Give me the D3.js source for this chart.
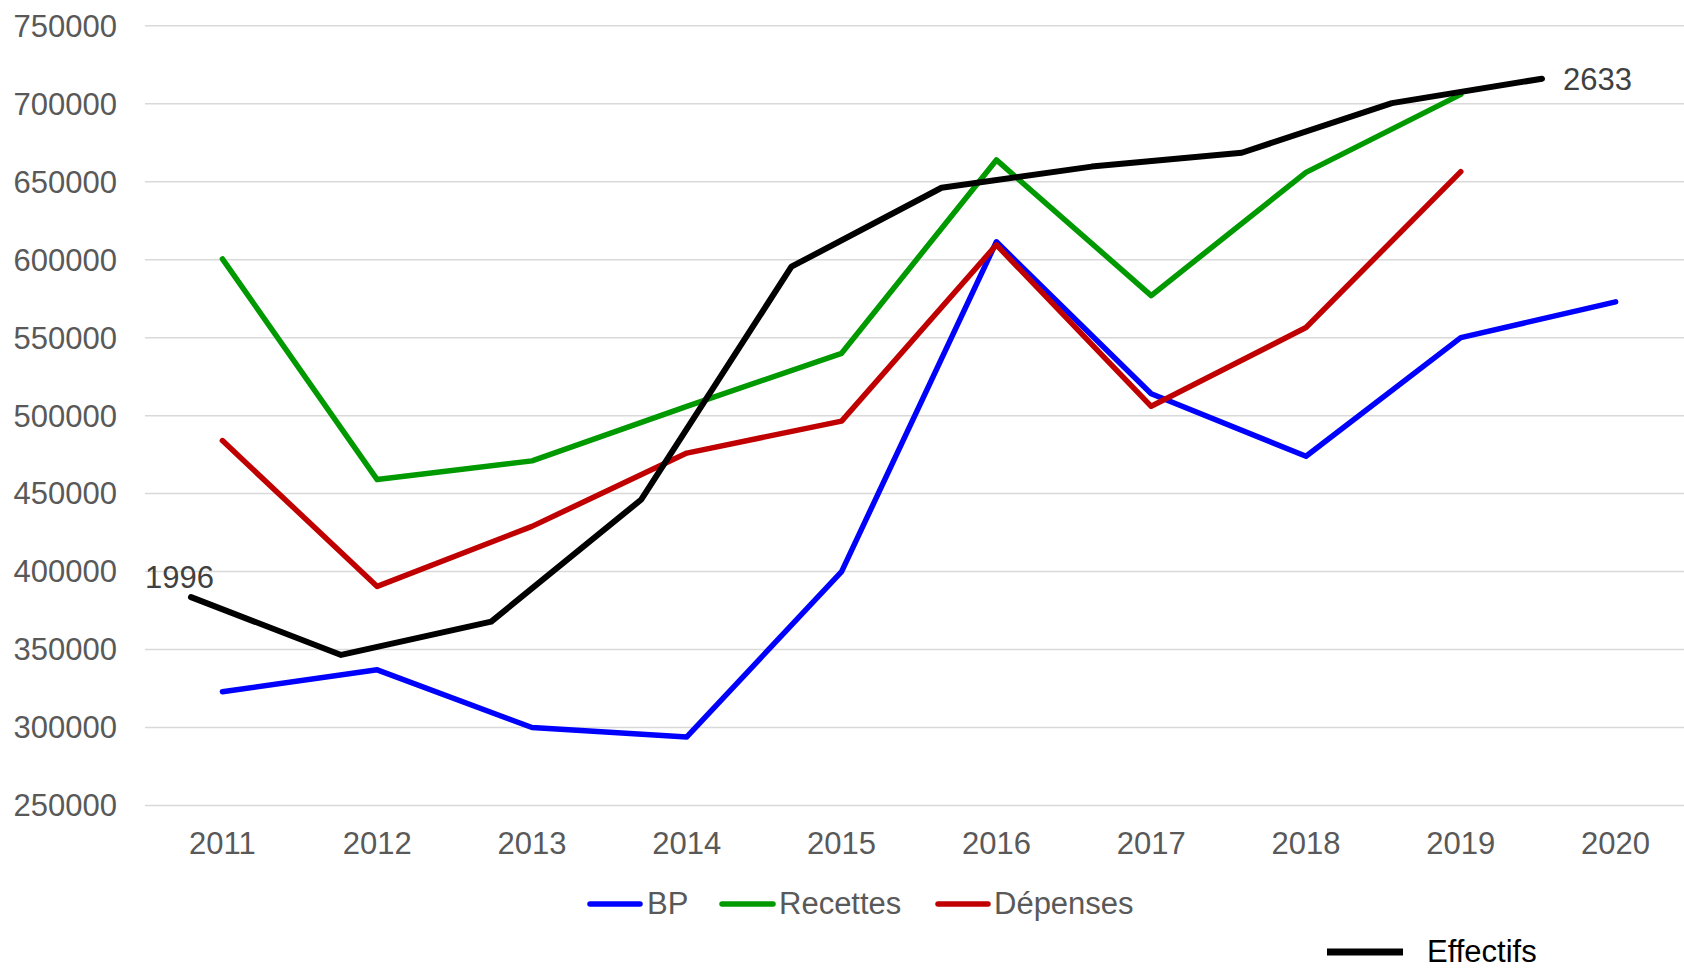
<!DOCTYPE html>
<html lang="fr">
  <head>
    <meta charset="UTF-8" />
    <title>BP, Recettes, Dépenses et Effectifs</title>
    <style>
      body {
        margin: 0;
        padding: 0;
        background-color: #ffffff;
        font-family: "Liberation Sans", Arial, sans-serif;
      }
      .grid line {
        stroke: #d9d9d9;
        stroke-width: 1.5px;
      }
      .axis text {
        fill: #595959;
        font-size: 31px;
      }
      .legend text {
        fill: #595959;
        font-size: 31px;
      }
      .label {
        fill: #404040;
        font-size: 31px;
      }
    </style>
  </head>
  <body>
    <svg id="chart"></svg>

    <script src="https://d3js.org/d3.v7.min.js"></script>
    <script>
      const years = ["2011", "2012", "2013", "2014", "2015", "2016", "2017", "2018", "2019", "2020"];
      const yTicks = [250000, 300000, 350000, 400000, 450000, 500000, 550000, 600000, 650000, 700000, 750000];

      const bp = [323000, 337000, 300000, 294000, 400000, 611500, 514000, 474000, 550000, 573000];
      const recettes = [600500, 459000, 471000, 506000, 540000, 664000, 577000, 656000, 706000, null];
      const depenses = [484000, 390500, 429000, 476000, 496500, 609500, 506000, 556500, 656500, null];
      const effectifs = [1996, 1925, 1966, 2116, 2402, 2499, 2525, 2542, 2603, 2633];

      const width = 1684;
      const height = 969;

      const svg = d3.select("#chart").attr("width", width).attr("height", height);

      // main axes (plot area runs a bit past the right edge)
      const x = d3.scaleBand().domain(years).range([145, 1693]);
      const y = d3.scaleLinear().domain([250000, 750000]).range([805.5, 25.8]);

      // hidden secondary axes for Effectifs
      const x2 = d3.scalePoint().domain(years).range([191, 1542]);
      const y2 = d3.scaleLinear().domain([1740, 2698]).range([805.5, 25.8]);

      // gridlines
      svg
        .append("g")
        .attr("class", "grid")
        .selectAll("line")
        .data(yTicks)
        .enter()
        .append("line")
        .attr("x1", 145)
        .attr("x2", width)
        .attr("y1", (d) => y(d))
        .attr("y2", (d) => y(d));

      // y axis labels
      svg
        .append("g")
        .attr("class", "axis")
        .selectAll("text")
        .data(yTicks)
        .enter()
        .append("text")
        .attr("x", 117)
        .attr("y", (d) => y(d))
        .attr("dy", "0.35em")
        .attr("text-anchor", "end")
        .text((d) => d);

      // x axis labels
      svg
        .append("g")
        .attr("class", "axis")
        .selectAll("text")
        .data(years)
        .enter()
        .append("text")
        .attr("x", (d) => x(d) + x.bandwidth() / 2)
        .attr("y", 854)
        .attr("text-anchor", "middle")
        .text((d) => d);

      const series = [
        { name: "BP", values: bp, color: "#0000ff" },
        { name: "Recettes", values: recettes, color: "#009900" },
        { name: "Dépenses", values: depenses, color: "#c00000" },
      ];

      const line = d3
        .line()
        .defined((d) => d.v != null)
        .x((d) => x(d.year) + x.bandwidth() / 2)
        .y((d) => y(d.v));

      series.forEach(function (s) {
        svg
          .append("path")
          .datum(years.map((yr, i) => ({ year: yr, v: s.values[i] })))
          .attr("d", line)
          .attr("fill", "none")
          .attr("stroke", s.color)
          .attr("stroke-width", 5.5)
          .attr("stroke-linecap", "round")
          .attr("stroke-linejoin", "round");
      });

      // Effectifs on secondary axis
      const line2 = d3
        .line()
        .x((d) => x2(d.year))
        .y((d) => y2(d.v));

      svg
        .append("path")
        .datum(years.map((yr, i) => ({ year: yr, v: effectifs[i] })))
        .attr("d", line2)
        .attr("fill", "none")
        .attr("stroke", "#000000")
        .attr("stroke-width", 6)
        .attr("stroke-linecap", "round")
        .attr("stroke-linejoin", "round");

      // data labels for first and last Effectifs
      svg
        .append("text")
        .attr("class", "label")
        .attr("x", x2(years[0]) + 23)
        .attr("y", y2(effectifs[0]) - 9)
        .attr("text-anchor", "end")
        .text(effectifs[0]);

      svg
        .append("text")
        .attr("class", "label")
        .attr("x", x2(years[years.length - 1]) + 21)
        .attr("y", y2(effectifs[effectifs.length - 1]))
        .attr("dy", "0.35em")
        .text(effectifs[effectifs.length - 1]);

      // legend
      const legend = svg.append("g").attr("class", "legend");
      const legendItems = [
        { name: "BP", color: "#0000ff", x1: 590, x2: 640, tx: 647, y: 903, w: 5.5 },
        { name: "Recettes", color: "#009900", x1: 722, x2: 773, tx: 779, y: 903, w: 5.5 },
        { name: "Dépenses", color: "#c00000", x1: 938, x2: 988, tx: 994, y: 903, w: 5.5 },
        { name: "Effectifs", color: "#000000", x1: 1327, x2: 1403, tx: 1427, y: 951, w: 7, sq: true, txt: "#000000" },
      ];
      legendItems.forEach(function (d) {
        legend
          .append("line")
          .attr("x1", d.x1)
          .attr("x2", d.x2)
          .attr("y1", d.y + 1)
          .attr("y2", d.y + 1)
          .attr("stroke", d.color)
          .attr("stroke-width", d.w)
          .attr("stroke-linecap", d.sq ? "butt" : "round");
        legend
          .append("text")
          .attr("x", d.tx)
          .attr("y", d.y)
          .attr("dy", "0.35em")
          .style("fill", d.txt || null)
          .text(d.name);
      });
    </script>
  </body>
</html>
